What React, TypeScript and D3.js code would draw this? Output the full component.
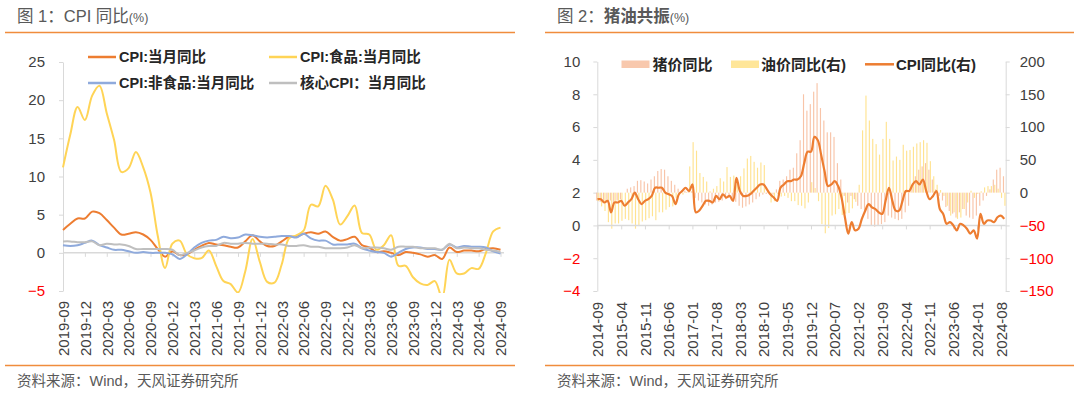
import React, { useEffect, useRef } from "react";
import * as d3 from "d3";

// month categories, e.g. "2019-09"
function monthList(y0: number, m0: number, n: number): string[] {
  const out: string[] = [];
  for (let k = 0; k < n; k++) {
    const t = m0 - 1 + k;
    out.push(`${y0 + Math.floor(t / 12)}-${String((t % 12) + 1).padStart(2, "0")}`);
  }
  return out;
}

// ---- chart 1: CPI YoY, 2019-09 .. 2024-09 ----
const leftMonths = monthList(2019, 9, 61);
const leftTicks = [
  "2019-09", "2019-12", "2020-03", "2020-06", "2020-09", "2020-12", "2021-03",
  "2021-06", "2021-09", "2021-12", "2022-03", "2022-06", "2022-09", "2022-12",
  "2023-03", "2023-06", "2023-09", "2023-12", "2024-03", "2024-06", "2024-09",
];
const cpiYoy = [
  3.0, 3.8, 4.5, 4.5,
  5.4, 5.2, 4.3, 3.3, 2.4, 2.5, 2.7, 2.4, 1.7, 0.5, -0.5, 0.2,
  -0.3, -0.2, 0.4, 0.9, 1.3, 1.1, 1.0, 0.8, 0.7, 1.5, 2.3, 1.5,
  0.9, 0.9, 1.5, 2.1, 2.1, 2.5, 2.7, 2.5, 2.8, 2.1, 1.6, 1.8,
  2.1, 1.0, 0.7, 0.1, 0.2, 0.0, -0.3, 0.1, 0.0, -0.2, -0.5, -0.3,
  -0.8, 0.7, 0.1, 0.3, 0.3, 0.2, 0.5, 0.6, 0.4,
];
const foodYoy = [
  11.2, 15.5, 19.1, 17.4,
  20.6, 21.9, 18.3, 14.8, 10.6, 11.1, 13.2, 11.2, 7.9, 2.2, -2.0, 1.2,
  1.6, -0.2, -0.7, -0.7, 0.3, -1.7, -3.7, -4.1, -5.2, -2.4, 1.8, -1.2,
  -3.8, -3.9, -1.5, 1.9, 2.3, 2.9, 6.3, 6.1, 8.8, 7.0, 3.7, 4.8,
  6.2, 2.6, 2.4, 0.4, 1.0, 2.3, -1.7, -1.7, -3.2, -4.0, -4.2, -3.7,
  -5.9, -0.9, -2.7, -2.7, -2.0, -2.1, 0.0, 2.8, 3.3,
];
const nonFoodYoy = [
  1.0, 0.9, 1.0, 1.3,
  1.6, 1.0, 0.7, 0.4, 0.4, 0.2, 0.0, 0.1, 0.0, 0.0, 0.0, -0.2,
  -0.8, -0.2, 0.7, 1.3, 1.6, 1.7, 2.1, 1.9, 2.0, 2.4, 2.3, 2.1,
  2.0, 2.1, 2.2, 2.2, 2.0, 2.5, 1.9, 1.6, 1.6, 1.1, 1.1, 1.1,
  1.2, 0.6, 0.3, 0.1, 0.0, -0.5, 0.0, 0.5, 0.7, 0.7, 0.5, 0.5,
  0.4, 1.1, 0.7, 0.9, 0.8, 0.8, 0.7, 0.2, -0.1,
];
const coreYoy = [
  1.5, 1.5, 1.4, 1.4,
  1.5, 1.0, 1.2, 1.1, 1.1, 0.9, 0.5, 0.5, 0.5, 0.5, 0.5, 0.4,
  -0.3, 0.0, 0.3, 0.7, 0.9, 0.9, 1.3, 1.2, 1.2, 1.3, 1.2, 1.2,
  1.2, 1.1, 1.1, 0.9, 0.9, 1.0, 0.8, 0.8, 0.6, 0.6, 0.6, 0.7,
  1.0, 0.6, 0.7, 0.7, 0.6, 0.4, 0.8, 0.8, 0.8, 0.6, 0.6, 0.6,
  0.4, 1.2, 0.6, 0.7, 0.6, 0.6, 0.4, 0.3, 0.1,
];

// ---- chart 2: pig / oil / CPI, 2014-09 .. 2024-09 ----
const rightMonths = monthList(2014, 9, 121);
const rightTicks = [
  "2014-09", "2015-04", "2015-11", "2016-06", "2017-01", "2017-08", "2018-03",
  "2018-10", "2019-05", "2019-12", "2020-07", "2021-02", "2021-09", "2022-04",
  "2022-11", "2023-06", "2024-01", "2024-08",
];
const pigYoy = [
  -12, -14, -15, -13,
  -12, -14, -12, -10, 0, 6, 8, 10, 18, 19, 17, 14,
  20, 25, 33, 36, 35, 25, 18, 12, 6, 4, 3, 2,
  2, -8, -12, -15, -18, -20, -18, -15, -14, -12, -10, -8,
  -10, -14, -20, -23, -21, -18, -15, -10, -6, -3, -2, -1,
  -3, 5, 18, 20, 25, 35, 38, 60, 80, 150, 125, 135,
  154, 167, 129, 110, 92, 92, 85, 45, 20, -5, -15, -5,
  -10, -20, -25, -30, -40, -50, -52, -50, -48, -45, -35, -38,
  -40, -42, -40, -30, -20, 10, 25, 35, 40, 45, 35, 20,
  5, -5, -12, -22, -28, -32, -38, -30, -25, -35, -38, -40,
  -35, -20, -12, -5, 5, 20, 35, 38, 25,
];
const oilYoy = [
  -13, -21, -28, -45,
  -55, -47, -47, -43, -40, -42, -47, -55, -51, -44, -42, -39,
  -36, -42, -30, -30, -26, -22, -21, -8, -3, -3, 1, 40,
  77, 64, 30, 24, 17, 2, 6, 10, 22, 17, 39, 24,
  26, 18, 25, 37, 52, 56, 47, 38, 46, 42, 4, -15,
  -13, -2, -6, -5, -8, -13, -13, -19, -20, -24, -15, 16,
  7, -13, -48, -62, -54, -35, -33, -25, -34, -32, -31, -24,
  -14, 12, 95, 148, 110, 82, 74, 58, 82, 108, 82, 49,
  55, 50, 73, 64, 65, 70, 75, 77, 80, 76, 48, 25,
  12, 4, -5, -20, -35, -30, -40, -38, -25, -15, 3, -8,
  -2, 2, 8, 10, 10, 12, 6, -8, -20,
];
const cpiYoyLong = [
  1.6, 1.6, 1.4, 1.5,
  0.8, 1.4, 1.4, 1.5, 1.2, 1.4, 1.6, 2.0, 1.6, 1.3, 1.5, 1.6,
  1.8, 2.3, 2.3, 2.3, 2.0, 1.9, 1.8, 1.3, 1.9, 2.1, 2.3, 2.1,
  2.5, 0.8, 0.9, 1.2, 1.5, 1.5, 1.4, 1.8, 1.6, 1.9, 1.7, 1.8,
  1.5, 2.9, 2.1, 1.8, 1.8, 1.9, 2.1, 2.3, 2.5, 2.5, 2.2, 1.9,
  1.7, 1.5, 2.3, 2.5, 2.7, 2.7, 2.8, 2.8, 3.0, 3.8, 4.5, 4.5,
  5.4, 5.2, 4.3, 3.3, 2.4, 2.5, 2.7, 2.4, 1.7, 0.5, -0.5, 0.2,
  -0.3, -0.2, 0.4, 0.9, 1.3, 1.1, 1.0, 0.8, 0.7, 1.5, 2.3, 1.5,
  0.9, 0.9, 1.5, 2.1, 2.1, 2.5, 2.7, 2.5, 2.8, 2.1, 1.6, 1.8,
  2.1, 1.0, 0.7, 0.1, 0.2, 0.0, -0.3, 0.1, 0.0, -0.2, -0.5, -0.3,
  -0.8, 0.7, 0.1, 0.3, 0.3, 0.2, 0.5, 0.6, 0.4,
];

const FONT = "'Liberation Sans', Arial, 'Noto Sans CJK SC', sans-serif";
const AXIS = "#D9D9D9";
const TXT = "#404040";
const ORANGE = "#ED7D31";

const App: React.FC = () => {
  const svgRef = useRef<SVGSVGElement | null>(null);

  useEffect(() => {
    const width = 1080;
    const height = 395;
    const svg = d3.select(svgRef.current).attr("width", width).attr("height", height);
    svg.selectAll("*").remove();

    const styleAxis = (g: d3.Selection<SVGGElement, unknown, null, undefined>) => {
      g.attr("font-size", null).attr("font-family", null);
      g.selectAll("path,line").attr("stroke", AXIS);
      g.selectAll(".tick text")
        .style("font-size", "15px")
        .style("fill", (d: any) => (typeof d === "number" && d < 0 ? "#FF0000" : TXT));
    };

    // Titles, rules, sources
    const panels = [
      { x0: 5, x1: 515, tx: 17, fig: "图 1：", name: "CPI 同比", bold: false },
      { x0: 545, x1: 1074, tx: 557, fig: "图 2：", name: "猪油共振", bold: true },
    ];
    panels.forEach((p) => {
      const t = svg
        .append("text")
        .attr("x", p.tx)
        .attr("y", 21.5)
        .style("font-size", "16.5px")
        .style("fill", "#595959");
      t.append("tspan").text(p.fig);
      t.append("tspan").style("font-weight", p.bold ? "bold" : "normal").text(p.name);
      t.append("tspan").style("font-size", "12.5px").text("(%)");
      svg.append("line").attr("x1", p.x0).attr("x2", p.x1).attr("y1", 32.5).attr("y2", 32.5)
        .attr("stroke", "#F08C3C").attr("stroke-width", 1.5);
      svg.append("line").attr("x1", p.x0).attr("x2", p.x1).attr("y1", 365.5).attr("y2", 365.5)
        .attr("stroke", "#F08C3C").attr("stroke-width", 1.5);
      svg.append("text")
        .attr("x", p.tx)
        .attr("y", 386)
        .style("font-size", "14.5px")
        .style("fill", "#595959")
        .text("资料来源：Wind，天风证券研究所");
    });

    // ===== Chart 1 =====
    const xL = d3.scalePoint<string>().domain(leftMonths).range([63, 500.5]);
    const yL = d3.scaleLinear().domain([-5, 25]).range([291, 62]);

    const gyL = svg.append("g").attr("transform", "translate(63,0)")
      .call(d3.axisLeft(yL).tickValues([-5, 0, 5, 10, 15, 20, 25]).tickSize(4).tickSizeOuter(0).tickPadding(14));
    styleAxis(gyL);

    const gxL = svg.append("g").attr("transform", `translate(0,${yL(0)})`)
      .call(d3.axisBottom(xL).tickValues(leftTicks).tickSize(4).tickSizeOuter(0));
    styleAxis(gxL);
    gxL.select(".domain").attr("stroke-width", 1.5).attr("d", "M63,0H504");
    gxL.selectAll(".tick text")
      .attr("transform", "rotate(-90)")
      .attr("x", -(301 - yL(0)))
      .attr("y", 0)
      .attr("dy", "0.35em")
      .style("text-anchor", "end");

    svg.append("clipPath").attr("id", "clipL").append("rect")
      .attr("x", 57).attr("y", 55).attr("width", 455).attr("height", 238);

    const lineL = d3.line<number>()
      .x((_, i) => xL(leftMonths[i])!)
      .y((d) => yL(d))
      .curve(d3.curveCatmullRom.alpha(0.5));

    const leftSeries = [
      { name: "CPI:当月同比", data: cpiYoy, color: ORANGE },
      { name: "CPI:食品:当月同比", data: foodYoy, color: "#FFD456" },
      { name: "CPI:非食品:当月同比", data: nonFoodYoy, color: "#8FAADC" },
      { name: "核心CPI：当月同比", data: coreYoy, color: "#BFBFBF" },
    ];
    const linesG = svg.append("g").attr("clip-path", "url(#clipL)");
    leftSeries.forEach((s) => {
      linesG.append("path").datum(s.data).attr("d", lineL)
        .attr("fill", "none").attr("stroke", s.color).attr("stroke-width", 2);
    });

    // legend
    const legPos = [
      { x: 88, y: 57 }, { x: 269, y: 57 }, { x: 88, y: 83 }, { x: 269, y: 83 },
    ];
    leftSeries.forEach((s, i) => {
      const p = legPos[i];
      svg.append("line").attr("x1", p.x).attr("x2", p.x + 28).attr("y1", p.y).attr("y2", p.y)
        .attr("stroke", s.color).attr("stroke-width", 2.5);
      svg.append("text").attr("x", p.x + 31).attr("y", p.y).attr("dy", "0.35em")
        .style("font-size", "14.5px").style("font-weight", "bold").style("fill", "#262626")
        .text(s.name);
    });

    // ===== Chart 2 =====
    const xR = d3.scalePoint<string>().domain(rightMonths).range([597.5, 1004.2]);
    const yRL = d3.scaleLinear().domain([-4, 10]).range([291, 61.5]);
    const yRR = d3.scaleLinear().domain([-150, 200]).range([291, 61.5]);

    const gyRL = svg.append("g").attr("transform", "translate(597.3,0)")
      .call(d3.axisLeft(yRL).tickValues([-4, -2, 0, 2, 4, 6, 8, 10]).tickSize(4).tickSizeOuter(0).tickPadding(13));
    styleAxis(gyRL);
    const gyRR = svg.append("g").attr("transform", "translate(1005.7,0)")
      .call(d3.axisRight(yRR).tickValues([-150, -100, -50, 0, 50, 100, 150, 200]).tickSize(4).tickSizeOuter(0).tickPadding(10));
    styleAxis(gyRR);

    // bars
    const barW = 1.15;
    svg.append("g").selectAll("rect").data(pigYoy).enter().append("rect")
      .attr("x", (_, i) => xR(rightMonths[i])! - barW - 0.15)
      .attr("y", (d) => Math.min(yRR(d), yRR(0)))
      .attr("width", barW)
      .attr("height", (d) => Math.abs(yRR(d) - yRR(0)))
      .attr("fill", "#F8C4A8");
    svg.append("g").selectAll("rect").data(oilYoy).enter().append("rect")
      .attr("x", (_, i) => xR(rightMonths[i])! + 0.15)
      .attr("y", (d) => Math.min(yRR(d), yRR(0)))
      .attr("width", barW)
      .attr("height", (d) => Math.abs(yRR(d) - yRR(0)))
      .attr("fill", "#FFE391");

    const gxR = svg.append("g").attr("transform", `translate(0,${yRL(0)})`)
      .call(d3.axisBottom(xR).tickValues(rightTicks).tickSize(4).tickSizeOuter(0));
    styleAxis(gxR);
    gxR.select(".domain").attr("stroke-width", 1.5).attr("d", "M597.3,0H1005.7");
    gxR.selectAll(".tick text")
      .attr("transform", "rotate(-90)")
      .attr("x", -(302 - yRL(0)))
      .attr("y", 0)
      .attr("dy", "0.35em")
      .style("text-anchor", "end");

    const lineR = d3.line<number>()
      .x((_, i) => xR(rightMonths[i])!)
      .y((d) => yRL(d))
      .curve(d3.curveCatmullRom.alpha(0.5));
    svg.append("path").datum(cpiYoyLong).attr("d", lineR)
      .attr("fill", "none").attr("stroke", ORANGE).attr("stroke-width", 2.2);

    // legend
    const legR = svg.append("g").style("font-size", "15px").style("font-weight", "bold").style("fill", "#262626");
    legR.append("rect").attr("x", 621.5).attr("y", 60.5).attr("width", 28).attr("height", 7.5).attr("fill", "#F8C8AD");
    legR.append("text").attr("x", 652.5).attr("y", 64.3).attr("dy", "0.35em").text("猪价同比");
    legR.append("rect").attr("x", 731).attr("y", 60.5).attr("width", 28).attr("height", 7.5).attr("fill", "#FFE699");
    legR.append("text").attr("x", 761).attr("y", 64.3).attr("dy", "0.35em").text("油价同比(右)");
    legR.append("line").attr("x1", 865).attr("x2", 894).attr("y1", 64.3).attr("y2", 64.3)
      .attr("stroke", ORANGE).attr("stroke-width", 2.5);
    legR.append("text").attr("x", 896).attr("y", 64.3).attr("dy", "0.35em").text("CPI同比(右)");
  }, []);

  return (
    <svg
      ref={svgRef}
      style={{ position: "absolute", left: 0, top: 0, background: "#fff", fontFamily: FONT }}
    ></svg>
  );
};

export default App;
